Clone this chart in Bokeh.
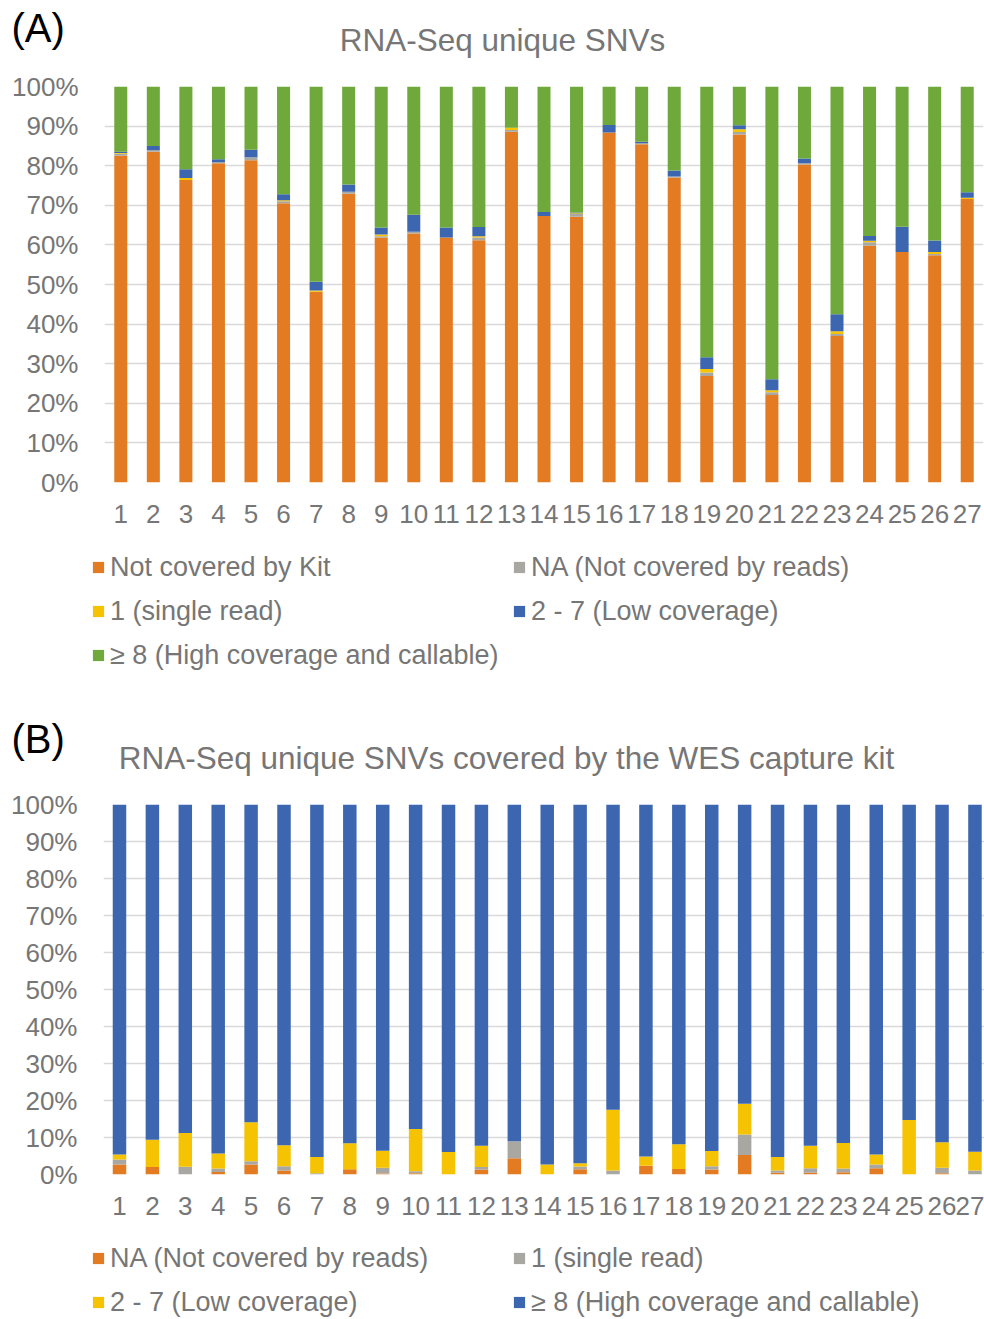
from bokeh.plotting import figure
from bokeh.layouts import column
from bokeh.models import ColumnDataSource, FixedTicker, Label, Legend, LegendItem, Range1d
from bokeh.embed import file_html
from bokeh.resources import INLINE

# ---------------------------------------------------------------- data
samples = list(range(1, 28))
sample_labels = [str(s) for s in samples]
pct_ticks = [0, 10, 20, 30, 40, 50, 60, 70, 80, 90, 100]
pct_labels = [f"{t}%" for t in pct_ticks]

# (A) RNA-Seq unique SNVs, share of each category per sample (%)
a_not_kit = [82.5, 83.5, 76.4, 80.6, 81.4, 70.5, 48.2, 72.9, 61.9, 62.9, 61.9, 61.2, 88.6, 67.3,
             67.1, 88.4, 85.4, 77.0, 26.9, 87.9, 22.1, 80.3, 37.0, 59.8, 58.2, 57.4, 71.6]
a_na = [0.5, 0.4, 0.0, 0.3, 0.75, 0.5, 0.0, 0.5, 0.3, 0.4, 0.0, 0.7, 0.4, 0.0,
        0.7, 0.0, 0.25, 0.3, 0.9, 0.6, 0.7, 0.3, 0.5, 0.85, 0.0, 0.3, 0.0]
a_single = [0.2, 0.0, 0.5, 0.0, 0.0, 0.3, 0.3, 0.0, 0.4, 0.0, 0.0, 0.3, 0.6, 0.0,
            0.2, 0.0, 0.0, 0.0, 0.85, 0.7, 0.5, 0.0, 0.7, 0.4, 0.0, 0.5, 0.3]
a_low = [0.3, 1.1, 2.2, 0.75, 1.85, 1.5, 2.2, 1.85, 1.8, 4.3, 2.5, 2.3, 0.0, 1.0,
         0.2, 1.9, 0.4, 1.5, 3.0, 1.0, 2.8, 1.2, 4.3, 1.2, 6.4, 2.9, 1.4]
a_high = [16.5, 15.0, 20.9, 18.35, 16.0, 27.2, 49.3, 24.75, 35.6, 32.4, 35.6, 35.5, 10.4, 31.7,
          31.8, 9.7, 13.95, 21.2, 68.35, 9.8, 73.9, 18.2, 57.5, 37.75, 35.4, 38.9, 26.7]

# (B) RNA-Seq unique SNVs covered by the WES capture kit (%)
b_na = [2.7, 2.0, 0.0, 0.7, 2.7, 1.1, 0.0, 1.45, 0.3, 0.35, 0.0, 1.35, 4.4, 0.0,
        1.45, 0.0, 2.35, 1.5, 1.35, 5.3, 0.5, 0.5, 0.6, 1.7, 0.0, 0.35, 0.0]
b_single = [1.35, 0.0, 2.1, 0.9, 0.9, 1.1, 0.35, 0.0, 1.5, 0.55, 0.0, 0.65, 4.6, 0.0,
            0.7, 1.1, 0.0, 0.0, 0.9, 5.5, 0.6, 1.2, 1.0, 1.0, 0.0, 1.5, 1.1]
b_low = [1.35, 7.4, 9.1, 4.1, 10.5, 5.7, 4.4, 7.0, 4.6, 11.4, 6.1, 5.8, 0.0, 2.7,
         0.9, 16.4, 2.5, 6.7, 4.1, 8.3, 3.6, 6.05, 6.9, 2.7, 14.7, 6.9, 5.05]
b_high = [94.6, 90.6, 88.8, 94.3, 85.9, 92.1, 95.25, 91.55, 93.6, 87.7, 93.9, 92.2, 91.0, 97.3,
          96.95, 82.5, 95.15, 91.8, 93.65, 80.9, 95.3, 92.25, 91.5, 94.6, 85.3, 91.25, 93.85]

a_names = ["Not covered by Kit", "NA (Not covered by reads)", "1 (single read)",
           "2 - 7 (Low coverage)", "\u2265 8 (High coverage and callable)"]
b_names = ["NA (Not covered by reads)", "1 (single read)",
           "2 - 7 (Low coverage)", "\u2265 8 (High coverage and callable)"]

ORANGE, GREY, YELLOW, BLUE, GREEN = "#E37B23", "#A8A7A2", "#F5C301", "#3D66B0", "#6FA93C"
a_colors = [ORANGE, GREY, YELLOW, BLUE, GREEN]
b_colors = [ORANGE, GREY, YELLOW, BLUE]
FONT = "Liberation Sans"
TEXT_GREY = "#767676"
W = 984


def strip(height):
    """Axis-free strip whose frame is the whole canvas, in pixel coordinates (y downwards)."""
    s = figure(width=W, height=height, x_range=Range1d(0, W), y_range=Range1d(height, 0),
               output_backend="svg", toolbar_location=None, min_border=0,
               x_axis_type=None, y_axis_type=None, frame_align=False)
    s.outline_line_color = None
    s.grid.visible = False
    return s


def heading(height, tag, title, tag_y, title_x, title_y):
    h = strip(height)
    h.add_layout(Label(x=11, y=tag_y, text=tag, text_font=FONT, text_font_size="40px",
                       text_color="black", text_align="left", text_baseline="middle"))
    h.add_layout(Label(x=title_x, y=title_y, text=title, text_font=FONT, text_font_size="31.5px",
                       text_color=TEXT_GREY, text_align="center", text_baseline="middle"))
    return h


def legend_strip(height, names, colors, bottom_y):
    s = strip(height)
    items = []
    for name, color in zip(names, colors):
        # zero-height bar left of the visible range: it only supplies the swatch style
        src = ColumnDataSource(dict(x=[-100], top=[0]))
        r = s.vbar(x="x", top="top", width=1, source=src, fill_color=color, line_color=None)
        items.append(LegendItem(label=name, renderers=[r]))
    leg = Legend(items=items, location=(91, bottom_y), orientation="horizontal", ncols=2,
                 glyph_width=14, glyph_height=14, label_standoff=5, label_width=392,
                 label_height=34, spacing=10, padding=0, margin=0,
                 border_line_color=None, background_fill_alpha=0,
                 label_text_font=FONT, label_text_font_size="27px",
                 label_text_color=TEXT_GREY)
    s.add_layout(leg)
    return s


def chart(height, x_range, top, bottom, left, right):
    p = figure(width=W, height=height,
               x_range=Range1d(*x_range), y_range=Range1d(0, 100),
               output_backend="svg", toolbar_location=None, frame_align=False,
               min_border_left=left, min_border_right=right,
               min_border_top=top, min_border_bottom=bottom)
    p.outline_line_color = None
    p.background_fill_color = "white"
    p.xgrid.visible = False
    p.ygrid.grid_line_color = "#D9D9D9"
    p.ygrid.grid_line_width = 1.5
    p.ygrid.ticker = FixedTicker(ticks=pct_ticks)
    for ax in (p.xaxis[0], p.yaxis[0]):
        ax.axis_line_color = None
        ax.major_tick_line_color = None
        ax.minor_tick_line_color = None
        ax.major_label_text_font = FONT
        ax.major_label_text_font_size = "26px"
        ax.major_label_text_color = TEXT_GREY
    p.xaxis.ticker = FixedTicker(ticks=samples)
    p.xaxis.major_label_overrides = {s: l for s, l in zip(samples, sample_labels)}
    p.xaxis.major_label_standoff = 16
    p.yaxis.ticker = FixedTicker(ticks=pct_ticks)
    p.yaxis.major_label_overrides = {t: l for t, l in zip(pct_ticks, pct_labels)}
    p.yaxis.major_label_standoff = 20
    return p


# ---------------------------------------------------------------- panel A
head_a = heading(70, "(A)", "RNA-Seq unique SNVs", 27, 502, 39)

pa = chart(465, (0.5, 27.5), 16, 53, 104, 1)
src_a = ColumnDataSource(dict(x=samples, k0=a_not_kit, k1=a_na, k2=a_single, k3=a_low, k4=a_high))
pa.vbar_stack(["k0", "k1", "k2", "k3", "k4"], x="x", width=0.4, source=src_a,
              color=a_colors, line_color=None)

leg_a = legend_strip(155, a_names, a_colors, 18)

# ---------------------------------------------------------------- panel B
head_b = heading(90, "(B)", "RNA-Seq unique SNVs covered by the WES capture kit", 48, 506, 67)

pb = chart(445, (0.514, 27.29), 24, 51, 103, 0)
src_b = ColumnDataSource(dict(x=samples, k0=b_na, k1=b_single, k2=b_low, k3=b_high))
pb.vbar_stack(["k0", "k1", "k2", "k3"], x="x", width=0.41, source=src_b,
              color=b_colors, line_color=None)

leg_b = legend_strip(94, b_names, b_colors, 0)

layout = column(head_a, pa, leg_a, head_b, pb, leg_b, spacing=0)
open("out.html", "w").write(file_html(layout, INLINE))
